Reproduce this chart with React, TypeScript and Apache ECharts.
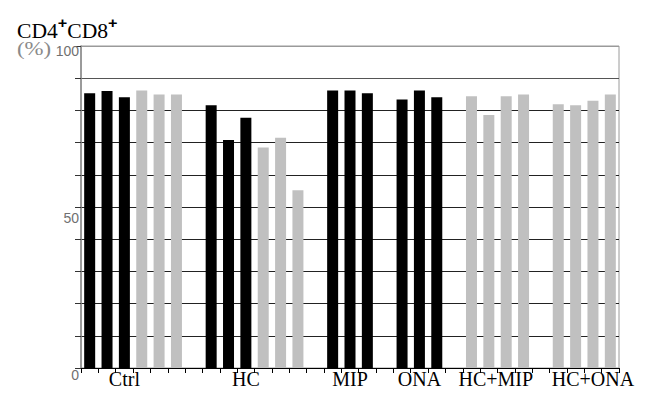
import React, { useEffect, useRef } from "react";
import * as echarts from "echarts";

// 31 category slots along the x axis (group labels placed on selected slots)
const slotLabels: string[] = [
  "", "", "Ctrl", "", "", "", "",
  "", "", "HC", "", "", "", "",
  "", "MIP", "", "",
  "", "ONA", "", "",
  "", "HC+MIP", "", "", "",
  "", "", "HC+ONA", "",
];

// Black bars (values in %), null = no black bar in that slot
const blackValues: (number | null)[] = [
  85.3, 86.0, 84.1, null, null, null, null,
  81.6, 70.8, 77.7, null, null, null, null,
  86.2, 86.2, 85.3, null,
  83.4, 86.2, 84.1, null,
  null, null, null, null, null,
  null, null, null, null,
];

// Grey bars (values in %)
const grayValues: (number | null)[] = [
  null, null, null, 86.2, 84.9, 84.9, null,
  null, null, null, 68.5, 71.5, 55.2, null,
  null, null, null, null,
  null, null, null, null,
  84.4, 78.6, 84.4, 84.9, null,
  81.9, 81.6, 83.0, 84.9,
];

const yTickLabels = [0, 50, 100];

export default function App() {
  const ref = useRef<HTMLDivElement>(null);
  useEffect(() => {
    if (!ref.current) return;
    const chart = echarts.init(ref.current, null, { renderer: "svg" });
    chart.setOption({
      animation: false,
      backgroundColor: "#fff",
      grid: {
        left: 81,
        right: 34,
        top: 46,
        bottom: 27,
        show: true,
        borderColor: "#9a9a9a",
        borderWidth: 1,
        backgroundColor: "transparent",
      },
      graphic: [
        {
          type: "text",
          x: 17,
          y: 15,
          scaleX: 1.08,
          style: {
            text: "{m|CD4}{sup|+}{m|CD8}{sup|+}",
            fill: "#000",
            rich: {
              m: {
                fontFamily: "Liberation Serif",
                fontSize: 20,
                lineHeight: 26,
                verticalAlign: "bottom",
                fill: "#000",
              },
              sup: {
                fontFamily: "Liberation Sans",
                fontWeight: "bold",
                fontSize: 15,
                lineHeight: 17,
                verticalAlign: "top",
                fill: "#000",
              },
            },
          },
        },
        {
          type: "text",
          x: 17,
          y: 39,
          scaleX: 1.2,
          style: {
            text: "(%)",
            font: '19px "Liberation Serif"',
            fill: "#8a8a8a",
          },
        },
      ],
      xAxis: {
        type: "category",
        data: slotLabels,
        boundaryGap: true,
        axisLine: { show: true, lineStyle: { color: "#000", width: 1 } },
        axisTick: {
          show: true,
          interval: 0,
          alignWithLabel: false,
          length: 5,
          lineStyle: { color: "#000" },
        },
        axisLabel: {
          interval: 0,
          margin: 1,
          color: "#000",
          fontFamily: "Liberation Serif",
          fontSize: 20,
          formatter: (v: string) => (v === "HC+MIP" ? "{s|" + v + "}" : v),
          rich: {
            s: {
              fontFamily: "Liberation Serif",
              fontSize: 20,
              color: "#000",
              padding: [0, 0, 0, 14],
            },
          },
        },
        splitLine: { show: false },
      },
      yAxis: {
        type: "value",
        min: 0,
        max: 100,
        interval: 10,
        axisLine: { show: true, lineStyle: { color: "#8a8a8a", width: 1.5 } },
        axisTick: { show: true, length: 6, lineStyle: { color: "#333" } },
        axisLabel: {
          margin: 2,
          color: "#707070",
          fontFamily: "Liberation Sans",
          fontSize: 14,
          verticalAlign: "top",
          formatter: (v: number) => {
            if (!yTickLabels.includes(v)) return "";
            if (v === 100) return "{a|100}";
            if (v === 50) return "{b|50}";
            return "{c|" + v + "}";
          },
          rich: {
            a: { fontFamily: "Liberation Sans", fontSize: 14, color: "#707070", lineHeight: 10 },
            b: { fontFamily: "Liberation Sans", fontSize: 14, color: "#707070", lineHeight: 22 },
            c: { fontFamily: "Liberation Sans", fontSize: 14, color: "#707070", lineHeight: 14 },
          },
        },
        splitLine: {
          show: true,
          lineStyle: {
            color: [
              "#000", "#222", "#222", "#222", "#222", "#222",
              "#222", "#222", "#222", "#555", "#9a9a9a",
            ],
            width: 1,
          },
        },
      },
      series: [
        {
          type: "bar",
          data: blackValues,
          barWidth: 11,
          barGap: "-100%",
          itemStyle: { color: "#000" },
        },
        {
          type: "bar",
          data: grayValues,
          barWidth: 11,
          barGap: "-100%",
          itemStyle: { color: "#c0c0c0" },
        },
      ],
    });
    return () => chart.dispose();
  }, []);
  return <div ref={ref} style={{ width: 653, height: 395, margin: -8 }} />;
}
